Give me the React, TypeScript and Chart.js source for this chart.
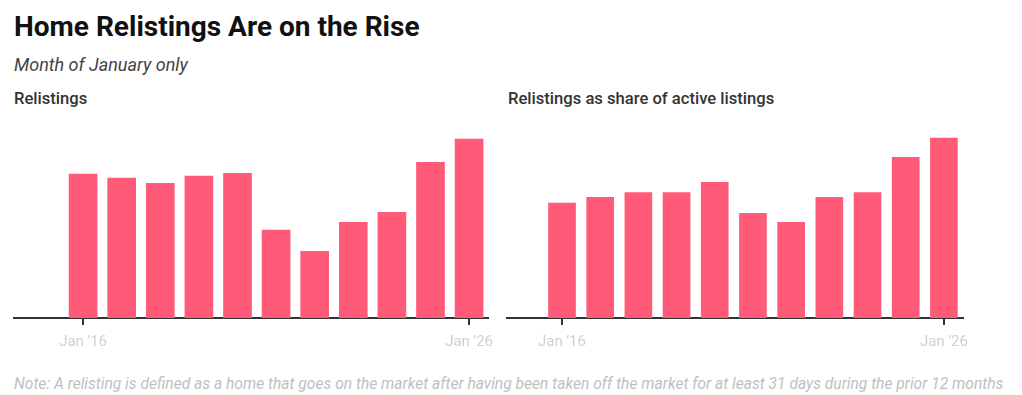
import React, { useEffect, useRef } from "react";
import { Chart, registerables } from "chart.js";

Chart.register(...registerables);

const years = [2016, 2017, 2018, 2019, 2020, 2021, 2022, 2023, 2024, 2025, 2026];
const relistings = [144, 140, 134.7, 142, 144.7, 88, 66.7, 95.7, 105.7, 155.7, 179];
const relistingShare = [115, 120.7, 125.3, 125.3, 135.7, 104.7, 95.7, 120.7, 125.3, 160.7, 180];
const tickYears = [2016, 2026];

const BAR = "#FF5A78";
const FONT = "Roboto, 'Noto Sans', sans-serif";

function fmtTick(v: number) {
  return "Jan '" + String(v).slice(2);
}

const tickMarks = {
  id: "tickMarks",
  afterDraw(chart: any) {
    const sc = chart.scales.x;
    const ctx = chart.ctx;
    ctx.save();
    ctx.fillStyle = "#333333";
    for (const v of tickYears) {
      const x = Math.round(sc.getPixelForValue(v));
      ctx.fillRect(x - 1, sc.top, 2, 7);
    }
    ctx.restore();
  },
};

function Panel(props: {
  values: number[];
  left: number;
  width: number;
  padLeft: number;
  padRight: number;
  xMin: number;
  xMax: number;
  barThickness: number;
}) {
  const ref = useRef<HTMLCanvasElement | null>(null);
  useEffect(() => {
    if (!ref.current) return;
    const chart = new Chart(ref.current, {
      type: "bar",
      data: {
        datasets: [
          {
            data: years.map((y, i) => ({ x: y, y: props.values[i] })),
            backgroundColor: BAR,
            borderWidth: 0,
            barThickness: props.barThickness,
          },
        ],
      },
      plugins: [tickMarks],
      options: {
        animation: false,
        responsive: false,
        maintainAspectRatio: false,
        layout: { padding: { left: props.padLeft, right: props.padRight, top: 0, bottom: 0 } },
        plugins: { legend: { display: false }, tooltip: { enabled: false }, title: { display: false } },
        scales: {
          x: {
            type: "linear",
            min: props.xMin,
            max: props.xMax,
            offset: false,
            afterBuildTicks: (axis: any) => {
              axis.ticks = tickYears.map((v) => ({ value: v }));
            },
            afterFit: (axis: any) => {
              axis.height = 42;
            },
            grid: {
              display: false,
              drawTicks: true,
              tickLength: 6,
            },
            border: { display: true, color: "#333", width: 2 },
            ticks: {
              autoSkip: false,
              maxRotation: 0,
              padding: 9,
              color: "#cdd0d6",
              font: { family: FONT, size: 15 },
              callback: (v: any) => fmtTick(Number(v)),
            },
          },
          y: {
            display: false,
            min: 0,
            max: 208,
          },
        },
      },
    });
    return () => chart.destroy();
  }, []);
  return (
    <canvas
      ref={ref}
      width={props.width}
      height={250}
      style={{ position: "absolute", left: props.left, top: 110, width: props.width, height: 250 }}
    />
  );
}

export default function App() {
  return (
    <div
      style={{
        position: "absolute",
        left: 0,
        top: 0,
        width: 1022,
        height: 395,
        background: "#fff",
        fontFamily: FONT,
        overflow: "hidden",
      }}
    >
      <div style={{ position: "absolute", left: 14, top: 10, fontSize: 28, fontWeight: 700, color: "#111", whiteSpace: "nowrap" }}>
        Home Relistings Are on the Rise
      </div>
      <div style={{ position: "absolute", left: 14, top: 54, fontSize: 18, fontStyle: "italic", color: "#444", whiteSpace: "nowrap" }}>
        Month of January only
      </div>
      <div style={{ position: "absolute", left: 14, top: 89, fontSize: 16.6, fontWeight: 500, color: "#333", whiteSpace: "nowrap" }}>
        Relistings
      </div>
      <div style={{ position: "absolute", left: 508, top: 89, fontSize: 16.6, fontWeight: 500, color: "#333", whiteSpace: "nowrap" }}>
        Relistings as share of active listings
      </div>
      <Panel values={relistings} left={0} width={516} padLeft={14} padRight={28} xMin={2014.21} xMax={2026.49} barThickness={28} />
      <Panel values={relistingShare} left={480} width={542} padLeft={27} padRight={59} xMin={2014.56} xMax={2026.5} barThickness={27} />
      <div style={{ position: "absolute", left: 14, top: 375, fontSize: 15.6, fontStyle: "italic", color: "#c0c0c0", whiteSpace: "nowrap" }}>
        Note: A relisting is defined as a home that goes on the market after having been taken off the market for at least 31 days during the prior 12 months
      </div>
    </div>
  );
}
